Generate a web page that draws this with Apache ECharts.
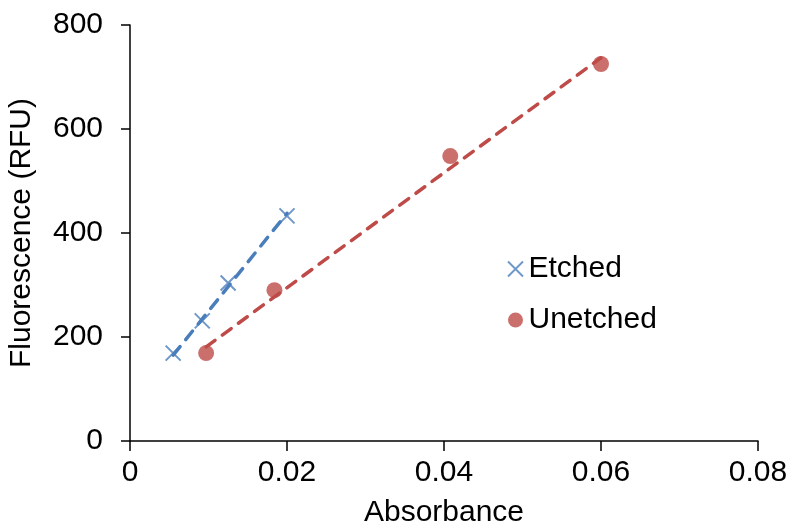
<!DOCTYPE html>
<html lang="en">

<head>
  <meta charset="UTF-8">
  <title>Fluorescence vs Absorbance</title>
  <style>
  html, body {
    margin: 0;
    padding: 0;
    background: #fff;
  }
  #main {
    width: 790px;
    height: 527px;
  }
  </style>
  <script src="https://cdn.jsdelivr.net/npm/echarts@6/dist/echarts.min.js"></script>
</head>

<body>
  <div id="main"></div>
  <script>
  // measured points [absorbance, fluorescence]
  var etched = [[0.0055, 169], [0.0092, 231], [0.0125, 304], [0.0200, 433]];
  var unetched = [[0.0097, 169], [0.0184, 290], [0.0408, 548], [0.0600, 725]];
  // linear trendline end points
  var etchedTrend = [[0.0055, 165], [0.0200, 438]];
  var unetchedTrend = [[0.0097, 181], [0.0600, 737]];

  var blue = '#4a7ebb';
  var red = '#be4b48';
  var font = 'Liberation Sans, Arial, sans-serif';
  var cross = 'path://M0,0L10,10M10,0L0,10';

  var chart = echarts.init(document.getElementById('main'));
  chart.setOption({
    animation: false,
    textStyle: { fontFamily: font },
    grid: { left: 130, right: 32, top: 25, bottom: 86, outerBoundsMode: 'none' },
    legend: {
      orient: 'vertical',
      left: 502,
      top: 249,
      itemGap: 21,
      itemWidth: 16,
      itemHeight: 15,
      textStyle: { fontSize: 30, color: '#000', fontFamily: font },
      data: [
        { name: 'Etched', icon: cross, itemStyle: { color: blue, borderColor: blue, borderWidth: 2 } },
        { name: 'Unetched', icon: 'circle', itemStyle: { color: red } }
      ]
    },
    xAxis: {
      type: 'value',
      min: 0,
      max: 0.08,
      interval: 0.02,
      name: 'Absorbance',
      nameLocation: 'middle',
      nameGap: 57,
      nameTextStyle: { fontSize: 30, color: '#000' },
      splitLine: { show: false },
      axisLine: { lineStyle: { color: '#000', width: 1.5 } },
      axisTick: { show: true, length: 10, lineStyle: { color: '#000', width: 1.5 } },
      axisLabel: { fontSize: 30, color: '#000', margin: 17 }
    },
    yAxis: {
      type: 'value',
      min: 0,
      max: 800,
      interval: 200,
      name: 'Fluorescence (RFU)',
      nameLocation: 'middle',
      nameRotate: 90,
      nameGap: 93,
      nameTextStyle: { fontSize: 30, color: '#000' },
      splitLine: { show: false },
      axisLine: { show: true, lineStyle: { color: '#000', width: 1.5 } },
      axisTick: { show: true, length: 9, lineStyle: { color: '#000', width: 1.5 } },
      axisLabel: { fontSize: 30, color: '#000', margin: 27 }
    },
    series: [
      {
        name: 'Etched trend',
        type: 'line',
        data: etchedTrend,
        symbol: 'none',
        lineStyle: { color: blue, width: 3.5, type: [11, 9], cap: 'round' },
        z: 1
      },
      {
        name: 'Unetched trend',
        type: 'line',
        data: unetchedTrend,
        symbol: 'none',
        lineStyle: { color: red, width: 3.5, type: [11, 9], cap: 'round' },
        z: 1
      },
      {
        name: 'Etched',
        type: 'scatter',
        data: etched,
        symbol: cross,
        symbolSize: 15,
        itemStyle: { color: blue, borderColor: blue, borderWidth: 2 },
        z: 3
      },
      {
        name: 'Unetched',
        type: 'scatter',
        data: unetched,
        symbol: 'circle',
        symbolSize: 16,
        itemStyle: { color: red },
        z: 3
      }
    ]
  });
  </script>
</body>

</html>
